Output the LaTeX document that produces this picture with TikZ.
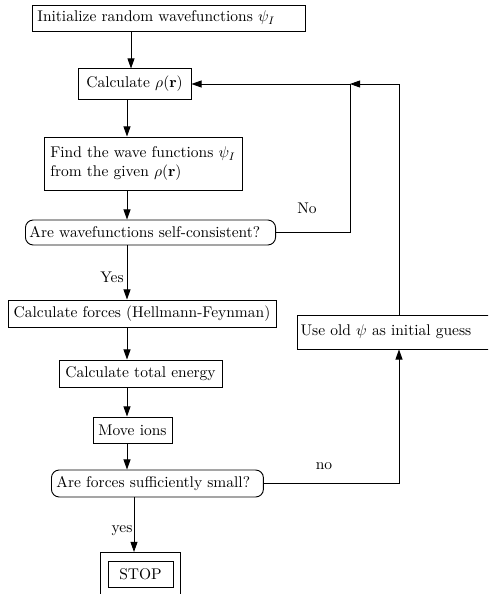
\documentclass[tikz,border=0pt]{standalone}
\usetikzlibrary{arrows.meta,fit}
\begin{document}
\begin{tikzpicture}[x=0.645pt,y=-0.645pt,
    box/.style={draw, line width=0.6pt, inner sep=2pt},
    test/.style={box, rounded corners=5pt},
    arr/.style={-{Triangle[length=6.5pt,width=4.5pt]}, line width=0.6pt}]
    \useasboundingbox (0,0) rectangle (488,594);
    \clip (0,0) rectangle (488,594);
    \node[box, anchor=west, align=left, inner xsep=3.2pt, text width=169.6pt, minimum height=16.8pt] (init) at (32,18) {Initialize random wavefunctions $\psi_I$};
    \node[box, minimum width=72.9pt, minimum height=19.4pt] (rho) at (134.5,84) {Calculate $\rho(\mathbf{r})$};
    \node[box, align=left, minimum width=127.7pt, minimum height=34.2pt] (find) at (143,163.5) {Find the wave functions $\psi_I$\\from the given $\rho(\mathbf{r})$};
    \node[test, anchor=west, align=left, inner xsep=2.6pt, text width=156.1pt, minimum height=16.1pt] (selfc) at (25,232.5) {Are wavefunctions self-consistent?};
    \node[box, minimum width=172.9pt, minimum height=17.4pt] (forces) at (142,313.5) {Calculate forces (Hellmann-Feynman)};
    \node[box, minimum width=105.1pt, minimum height=17.4pt] (energy) at (140.5,373.5) {Calculate total energy};
    \node[box, minimum width=51pt, minimum height=16.8pt] (move) at (132.5,430) {Move ions};
    \node[test, anchor=west, align=left, inner xsep=3.2pt, text width=130.3pt, minimum height=17.4pt] (small) at (51,483.5) {Are forces sufficiently small?};
    \node[box, minimum width=41.9pt, minimum height=16.8pt] (stop) at (140.5,574) {STOP};
    \node[draw, line width=0.6pt, fit=(stop), inner xsep=4.5pt, inner ysep=5.2pt] (stopout) {};
    \node[box, anchor=west, align=left, inner xsep=2pt, text width=131.6pt, minimum height=21.9pt] (useold) at (297,332) {Use old $\psi$ as initial guess};
    \coordinate (c1) at (131,0);
    \coordinate (c2) at (127,0);
    \coordinate (c3) at (134,0);
    \coordinate (c4) at (399,0);
    \coordinate (join) at (350,84);
    \draw[arr] (init.south -| c1) -- (rho.north -| c1);
    \draw[arr] (rho.south -| c2) -- (find.north -| c2);
    \draw[arr] (find.south -| c2) -- (selfc.north -| c2);
    \draw[arr] (selfc.south -| c2) -- (forces.north -| c2);
    \draw[arr] (forces.south -| c2) -- (energy.north -| c2);
    \draw[arr] (energy.south -| c2) -- (move.north -| c2);
    \draw[arr] (move.south -| c2) -- (small.north -| c2);
    \draw[arr] (small.south -| c3) -- (stopout.north -| c3);
    \draw[arr] (selfc.east) -| (join) -- (rho.east);
    \draw[arr] (useold.north -| c4) |- (join);
    \draw[arr] (small.east) -| (useold.south -| c4);
    \node (lno) at (307,208) {No};
    \node (lyes) at (112,277) {Yes};
    \node (lno2) at (324,466) {no};
    \node (lyes2) at (122,531) {yes};
\end{tikzpicture}
\end{document}
